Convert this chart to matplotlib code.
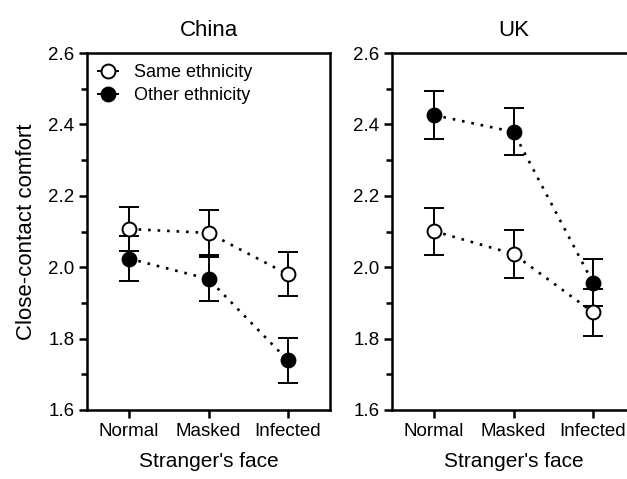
import matplotlib
matplotlib.use("Agg")
import matplotlib.pyplot as plt
from matplotlib.ticker import MultipleLocator
from matplotlib.lines import Line2D

plt.rcParams['font.family'] = ['Liberation Sans', 'DejaVu Sans']

conditions = ["Normal", "Masked", "Infected"]
panels = ["China", "UK"]

china_same = [2.107, 2.096, 1.980]
china_same_err = [0.061, 0.063, 0.062]
china_other = [2.024, 1.967, 1.739]
china_other_err = [0.062, 0.061, 0.062]

uk_same = [2.101, 2.037, 1.874]
uk_same_err = [0.066, 0.067, 0.066]
uk_other = [2.426, 2.379, 1.957]
uk_other_err = [0.067, 0.066, 0.067]

data = {
    "China": (china_same, china_same_err, china_other, china_other_err),
    "UK": (uk_same, uk_same_err, uk_other, uk_other_err),
}

fig = plt.figure(figsize=(6.27, 4.79), dpi=100)
W, H = 627, 479
positions = {"China": [87 / W, 69 / H, 243 / W, 357 / H],
             "UK": [392 / W, 69 / H, 243 / W, 357 / H]}

x = list(range(len(conditions)))
dot = (0, (1, 2.6))

for name in panels:
    ax = fig.add_axes(positions[name])
    same, same_err, other, other_err = data[name]
    for vals, errs, face in [(other, other_err, 'black'),
                             (same, same_err, 'white')]:
        ax.plot(x, vals, linestyle=dot, color='black', lw=1.9, zorder=2)
        ax.errorbar(x, vals, yerr=errs, fmt='none', ecolor='black',
                    elinewidth=1.4, capsize=7.5, capthick=1.4, zorder=3)
        ax.plot(x, vals, linestyle='none', marker='o', markersize=10,
                markerfacecolor=face, markeredgecolor='black',
                markeredgewidth=1.4, zorder=4)
    ax.set_xlim(-0.53, 2.53)
    ax.set_ylim(1.6, 2.6)
    ax.yaxis.set_minor_locator(MultipleLocator(0.1))
    ax.set_yticks([1.6, 1.8, 2.0, 2.2, 2.4, 2.6])
    ax.set_yticklabels(["1.6", "1.8", "2.0", "2.2", "2.4", "2.6"])
    ax.set_xticks(x)
    ax.set_xticklabels(conditions)
    ax.tick_params(axis='both', which='major', direction='out', length=6,
                   width=1.8, labelsize=13.5, pad=3)
    ax.tick_params(axis='y', which='minor', direction='out', length=4, width=1.8)
    for s in ax.spines.values():
        s.set_linewidth(1.8)
    ax.set_title(name, fontsize=16, pad=12)
    ax.set_xlabel("Stranger's face", fontsize=15, labelpad=9)
    if name == "China":
        ax.set_ylabel("Close-contact comfort", fontsize=16, labelpad=8)
        h1 = Line2D([0], [0], marker='o', color='black', lw=1.4, markersize=10,
                    markerfacecolor='white', markeredgewidth=1.4)
        h2 = Line2D([0], [0], marker='o', color='black', lw=1.4, markersize=10,
                    markerfacecolor='black', markeredgewidth=1.4)
        ax.legend([h1, h2], ["Same ethnicity", "Other ethnicity"], loc='upper left',
                  frameon=False, fontsize=13, handlelength=1.1, handletextpad=0.9,
                  borderaxespad=0.2, labelspacing=0.35)

fig.savefig("out.png", dpi=100)
